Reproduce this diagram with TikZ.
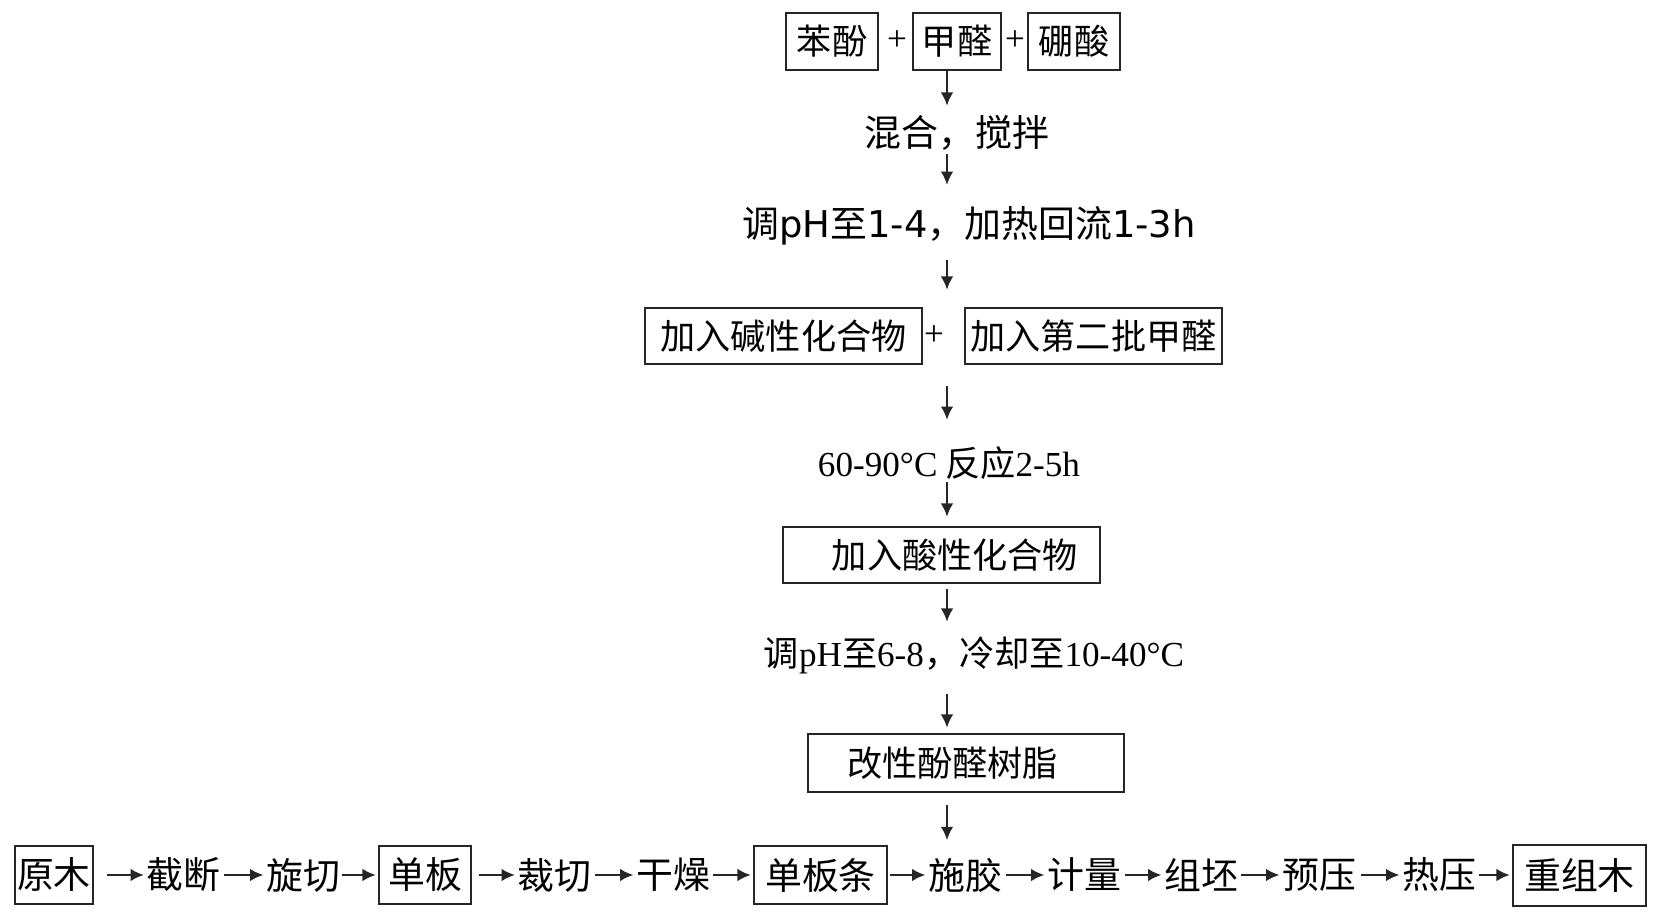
\documentclass[tikz,border=0pt]{standalone}
\usepackage{fontspec}
\setmainfont{Noto Sans CJK SC}
\newfontfamily\tnr{Liberation Serif}
\newfontfamily\dvs{DejaVu Sans}
\usetikzlibrary{arrows.meta}

\tikzset{
  box/.style={draw=black!85, line width=0.7pt, inner sep=0pt, minimum height=0.57cm,
    font=\fontsize{10pt}{12pt}\selectfont},
  txt/.style={inner sep=0pt, font=\fontsize{10pt}{12pt}\selectfont},
  big/.style={font=\fontsize{10.5pt}{12pt}\selectfont},
  flow/.style={-{Latex[length=3.8pt,width=3.6pt]}, line width=0.6pt, draw=black!85},
}

\begin{document}
\begin{tikzpicture}
  \useasboundingbox (0,0) rectangle (16.59,-9.22);
  % resin preparation
  \node[box, minimum width=0.92cm] (phenol) at (8.32,-0.415) {苯酚};
  \node[txt] (plus1) at (8.97,-0.41) {\tnr +};
  \node[box, minimum width=0.88cm] (form) at (9.57,-0.415) {甲醛};
  \node[txt] (plus2) at (10.15,-0.41) {\tnr +};
  \node[box, minimum width=0.92cm] (boric) at (10.74,-0.415) {硼酸};
  \node[txt, big] (mix) at (9.57,-1.33) {混合，搅拌};
  \node[txt, big] (reflux) at (9.69,-2.26) {调{\dvs pH}至{\dvs 1-4}，加热回流{\dvs 1-3h}};
  \node[box, minimum width=2.77cm, minimum height=0.56cm] (base) at (7.835,-3.36) {加入碱性化合物};
  \node[txt] (plus3) at (9.34,-3.36) {\tnr +};
  \node[box, minimum width=2.57cm, minimum height=0.56cm] (form2) at (10.935,-3.36) {加入第二批甲醛};
  \node[txt] (react) at (9.49,-4.63) {{\tnr 60-90°C} 反应{\tnr 2-5h}};
  \node[box, minimum width=3.17cm, minimum height=0.56cm] (acid) at (9.415,-5.55) {\kern0.27cm加入酸性化合物};
  \node[txt] (cool) at (9.74,-6.55) {调{\tnr pH}至{\tnr 6-8}，冷却至{\tnr 10-40°C}};
  \node[box, minimum width=3.16cm, minimum height=0.58cm] (resin) at (9.66,-7.63) {改性酚醛树脂\kern0.27cm};
  % scrimber process
  \node[box, big, minimum width=0.78cm, minimum height=0.58cm] (log) at (0.54,-8.75) {原木};
  \node[txt, big] (cut) at (1.835,-8.75) {截断};
  \node[txt, big] (peel) at (3.03,-8.75) {旋切};
  \node[box, big, minimum width=0.92cm, minimum height=0.58cm] (veneer) at (4.25,-8.75) {单板};
  \node[txt, big] (trim) at (5.545,-8.75) {裁切};
  \node[txt, big] (dry) at (6.73,-8.75) {干燥};
  \node[box, big, minimum width=1.33cm, minimum height=0.58cm] (strip) at (8.205,-8.75) {单板条};
  \node[txt, big] (glue) at (9.65,-8.75) {施胶};
  \node[txt, big] (meter) at (10.84,-8.75) {计量};
  \node[txt, big] (lay) at (12.01,-8.75) {组坯};
  \node[txt, big] (prepress) at (13.19,-8.75) {预压};
  \node[txt, big] (hotpress) at (14.39,-8.75) {热压};
  \node[box, big, minimum width=1.33cm, minimum height=0.61cm] (scrimber) at (15.795,-8.755) {重组木};

  \coordinate (mid) at (9.47,0);
  \foreach \a/\b/\s/\e in {form/mix/0cm/0.09cm, mix/reflux/0.03cm/0.21cm,
      reflux/base/0.14cm/0.17cm, base/react/0.21cm/0.26cm, react/acid/0.02cm/0.09cm,
      acid/cool/0.05cm/0.14cm, cool/resin/0.20cm/0.05cm, resin/glue/0.12cm/0.17cm}
    \draw[flow, shorten <=\s, shorten >=\e] (\a.south -| mid) -- (mid |- \b.north);
  \foreach \a/\b/\s in {log/cut/0.13cm, cut/peel/0.03cm, peel/veneer/0.01cm,
      veneer/trim/0.07cm, trim/dry/0.03cm, dry/strip/0.02cm, strip/glue/0.02cm,
      glue/meter/0.03cm, meter/lay/0.03cm, lay/prepress/0.02cm,
      prepress/hotpress/0.04cm, hotpress/scrimber/0.02cm}
    \draw[flow, shorten <=\s, shorten >=0.02cm] (\a.east) -- (\a.east -| \b.west);
\end{tikzpicture}
\end{document}
